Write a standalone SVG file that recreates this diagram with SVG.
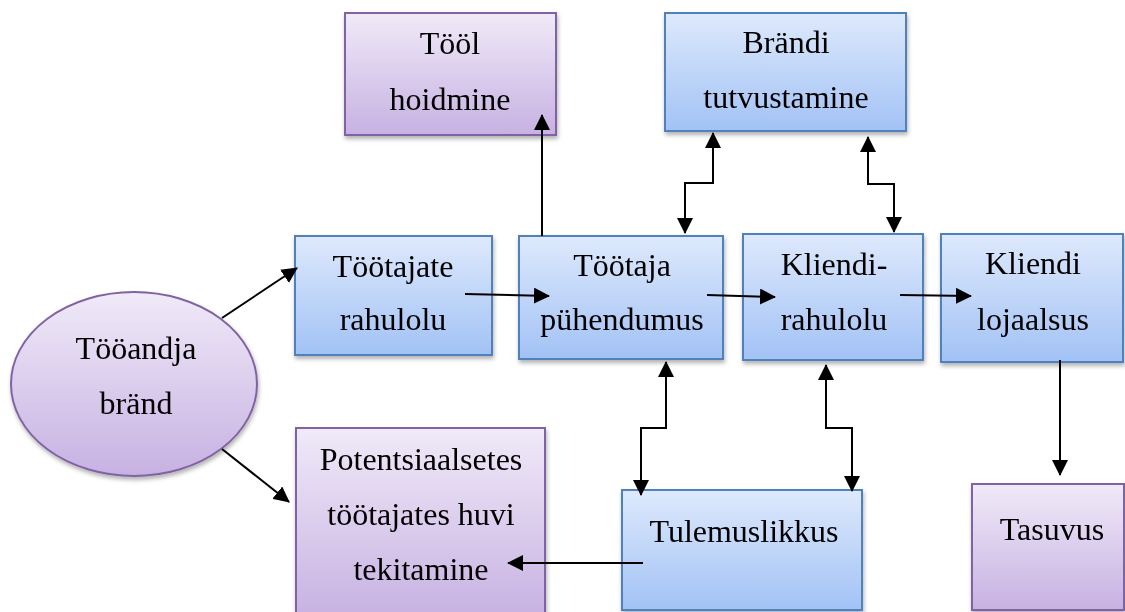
<svg xmlns="http://www.w3.org/2000/svg" width="1125" height="612" viewBox="0 0 1125 612">
<style>
.blue{fill:url(#gBlue);stroke:#4f81bd;stroke-width:2}
.purple{fill:url(#gPurple);stroke:#8064a2;stroke-width:2}
.t{font-family:"Liberation Serif","Times New Roman",serif;font-size:32px;fill:#000;text-anchor:middle}
.c{fill:none;stroke:#000;stroke-width:2}
.one{marker-end:url(#ah)}
.two{marker-start:url(#ahs);marker-end:url(#ah)}
</style>
<defs>
<linearGradient id="gBlue" x1="0" y1="0" x2="0" y2="1">
<stop offset="0" stop-color="#dee9fc"/>
<stop offset="1" stop-color="#a2c2f5"/>
</linearGradient>
<linearGradient id="gPurple" x1="0" y1="0" x2="0" y2="1">
<stop offset="0" stop-color="#f0eaf8"/>
<stop offset="1" stop-color="#c7b1e2"/>
</linearGradient>
<filter id="sh" x="-10%" y="-10%" width="125%" height="130%">
<feDropShadow dx="1" dy="3" stdDeviation="2" flood-color="#000" flood-opacity="0.3"/>
</filter>
<marker id="ah" markerUnits="userSpaceOnUse" markerWidth="16" markerHeight="16" viewBox="0 0 16 16" refX="15" refY="8" orient="auto">
<path d="M0,0 L16,8 L0,16 Z" fill="#000"/>
</marker>
<marker id="ahs" markerUnits="userSpaceOnUse" markerWidth="16" markerHeight="16" viewBox="0 0 16 16" refX="1" refY="8" orient="auto">
<path d="M16,0 L0,8 L16,16 Z" fill="#000"/>
</marker>
</defs>

<g id="n-too-hoidmine" filter="url(#sh)">
<rect class="purple" x="345" y="13" width="211" height="122"/>
<text class="t" x="450" y="54">Tööl</text>
<text class="t" x="450" y="110">hoidmine</text>
</g>
<g id="n-brandi-tutvustamine" filter="url(#sh)">
<rect class="blue" x="665" y="13" width="241" height="118"/>
<text class="t" x="786" y="53">Brändi</text>
<text class="t" x="786" y="108">tutvustamine</text>
</g>
<g id="n-tooandja-brand" filter="url(#sh)">
<ellipse class="purple" cx="134" cy="384" rx="123" ry="92"/>
<text class="t" x="136" y="359">Tööandja</text>
<text class="t" x="136" y="414">bränd</text>
</g>
<g id="n-tootajate-rahulolu" filter="url(#sh)">
<rect class="blue" x="295" y="236" width="197" height="119"/>
<text class="t" x="393" y="277">Töötajate</text>
<text class="t" x="393" y="330">rahulolu</text>
</g>
<g id="n-tootaja-puhendumus" filter="url(#sh)">
<rect class="blue" x="519" y="236" width="204" height="123"/>
<text class="t" x="622" y="276">Töötaja</text>
<text class="t" x="622" y="330">pühendumus</text>
</g>
<g id="n-kliendi-rahulolu" filter="url(#sh)">
<rect class="blue" x="743" y="234" width="180" height="126"/>
<text class="t" x="834" y="275">Kliendi-</text>
<text class="t" x="834" y="330">rahulolu</text>
</g>
<g id="n-kliendi-lojaalsus" filter="url(#sh)">
<rect class="blue" x="941" y="234" width="182" height="128"/>
<text class="t" x="1033" y="274">Kliendi</text>
<text class="t" x="1033" y="330">lojaalsus</text>
</g>
<g id="n-potentsiaalsetes" filter="url(#sh)">
<rect class="purple" x="296" y="428" width="249" height="190"/>
<text class="t" x="421" y="470">Potentsiaalsetes</text>
<text class="t" x="421" y="525">töötajates huvi</text>
<text class="t" x="421" y="580">tekitamine</text>
</g>
<g id="n-tulemuslikkus" filter="url(#sh)">
<rect class="blue" x="622" y="490" width="240" height="120"/>
<text class="t" x="744" y="542">Tulemuslikkus</text>
</g>
<g id="n-tasuvus" filter="url(#sh)">
<rect class="purple" x="972" y="484" width="152" height="126"/>
<text class="t" x="1052" y="540">Tasuvus</text>
</g>

<g id="connectors">
<path class="c one" d="M222,318 L297,268"/>
<path class="c one" d="M222,449 L289,502"/>
<path class="c one" d="M465,294 L549,296"/>
<path class="c one" d="M707,295 L775,297"/>
<path class="c one" d="M900,295 L971,296"/>
<path class="c one" d="M542,236 L542,115"/>
<path class="c one" d="M1060,360 L1060,475"/>
<path class="c one" d="M643,563 L508,563"/>
<path class="c two" d="M713,133 L713,183 L685,183 L685,233"/>
<path class="c two" d="M868,137 L868,184 L894,184 L894,232"/>
<path class="c two" d="M666,362 L666,428 L641,428 L641,495"/>
<path class="c two" d="M826,365 L826,428 L852,428 L852,491"/>
</g>
</svg>
